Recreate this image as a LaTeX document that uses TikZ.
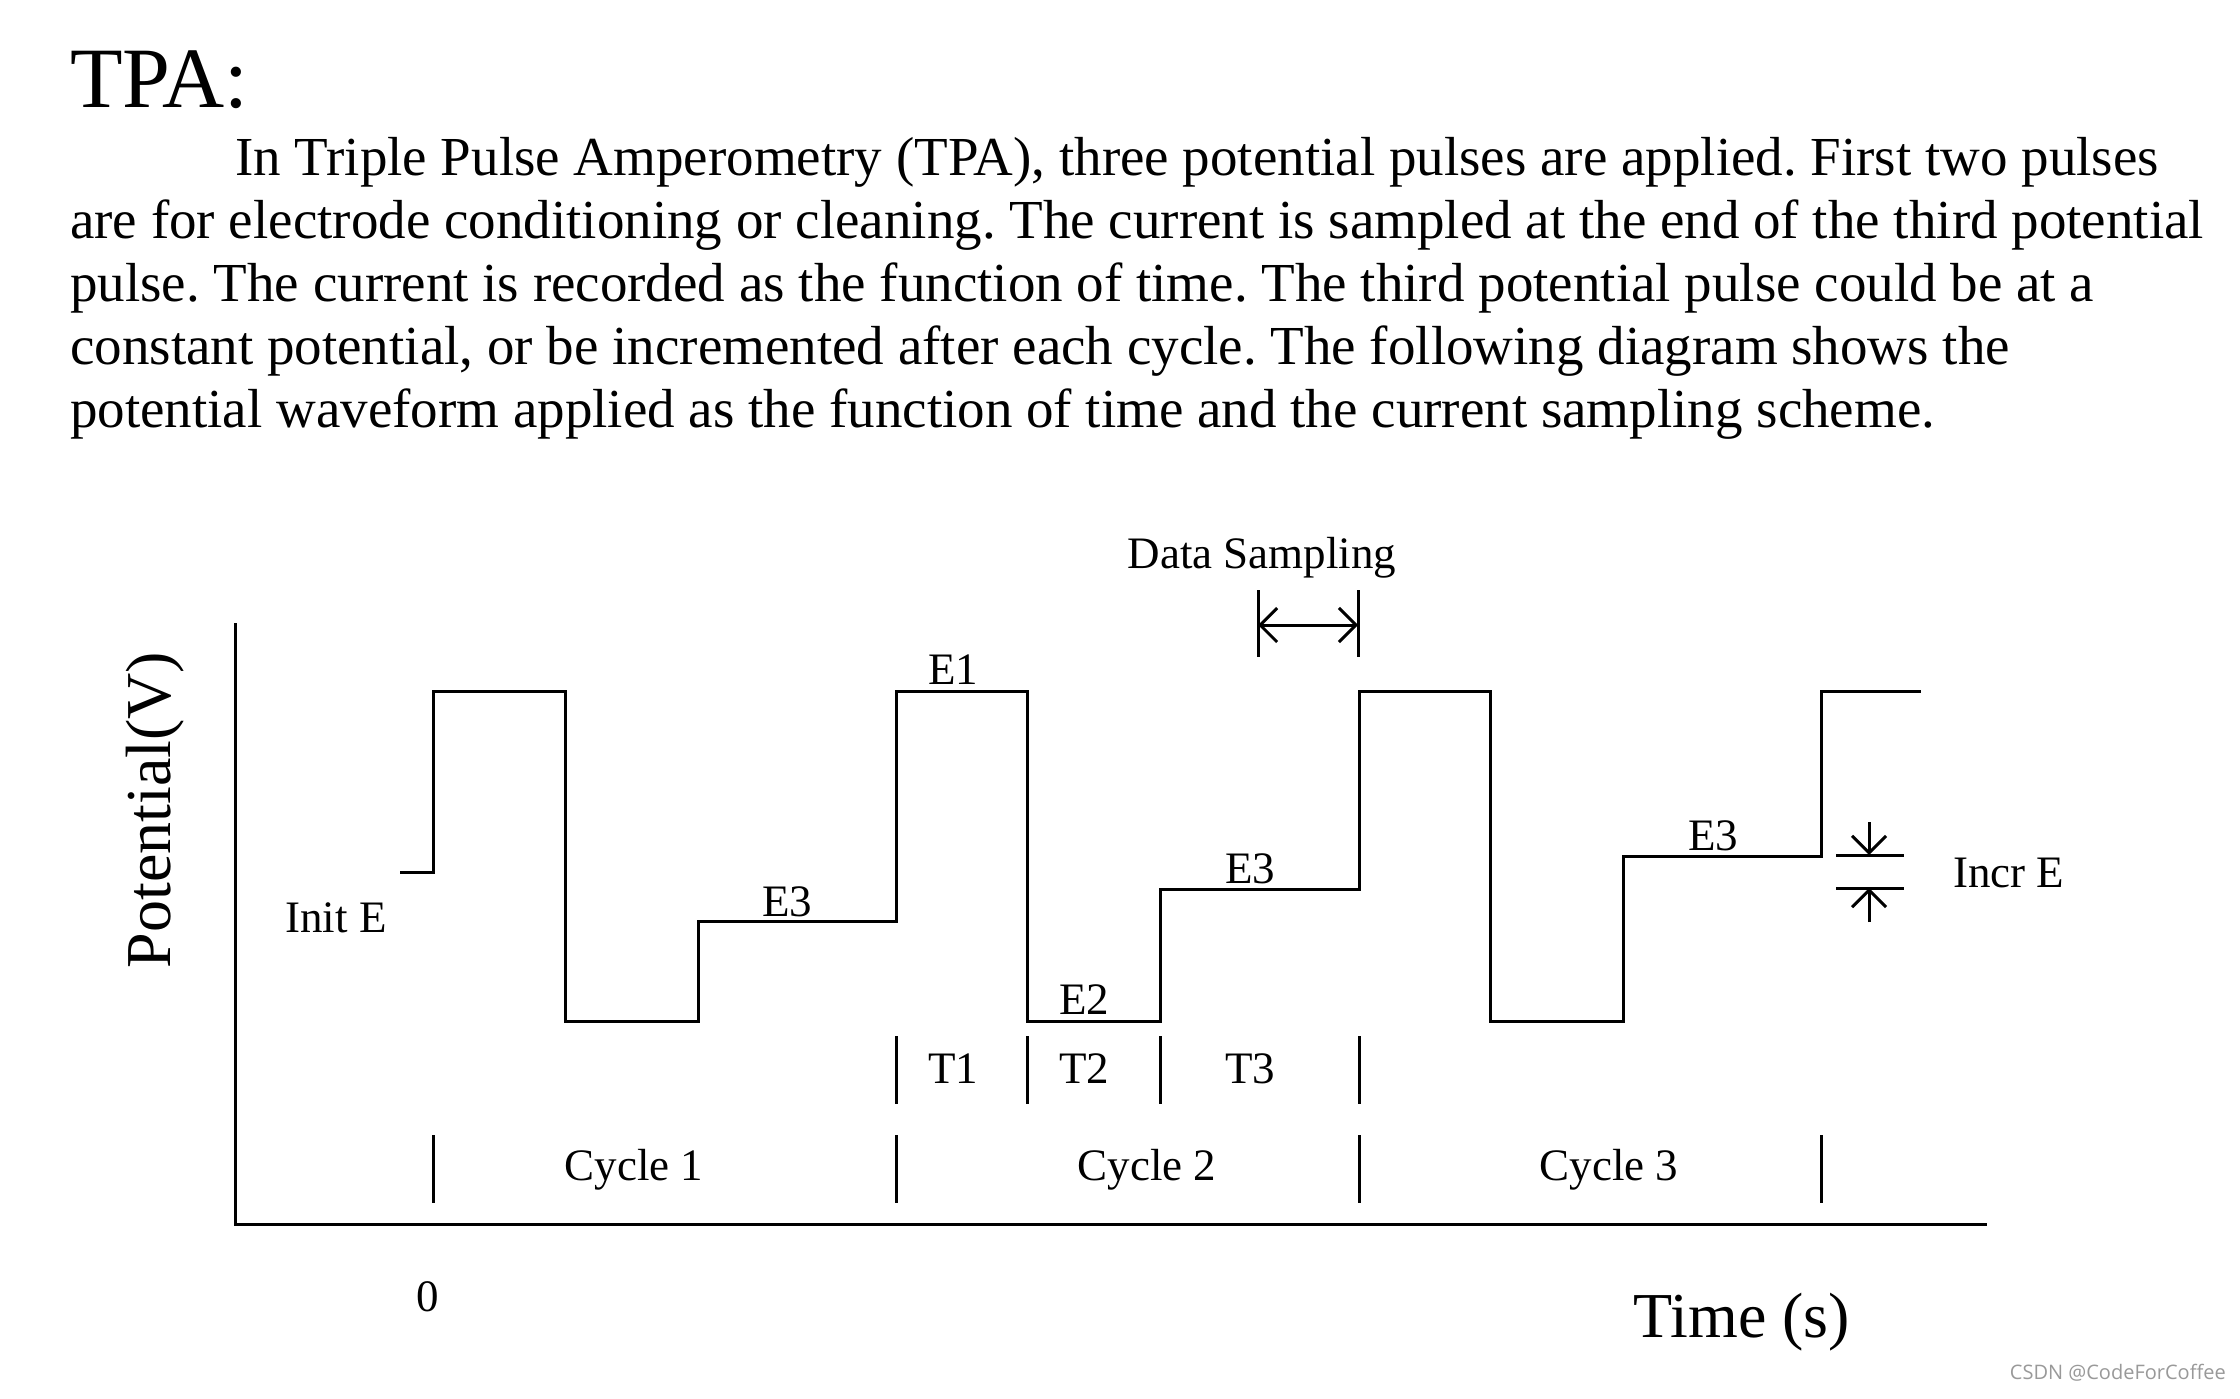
\documentclass[tikz,border=0pt]{standalone}
\usepackage{fontspec}
\setmainfont{Liberation Serif}
\newfontfamily\wmfont{Open Sans}
\usetikzlibrary{arrows.meta}
\frenchspacing
\begin{document}
\begin{tikzpicture}[x=1pt,y=-1pt,
  wave/.style={line width=3pt, line join=miter},
  axisline/.style={line width=3pt},
  tickline/.style={line width=3pt},
  lbl/.style={font=\fontsize{45}{54}\selectfont, inner sep=0pt, anchor=base},
  para/.style={font=\fontsize{55}{63}\selectfont, inner sep=0pt, anchor=base west},
  dimarrow/.style={line width=3pt, arrows={-Straight Barb[length=17pt,width=34pt]}},
  dimarrows/.style={line width=3pt, arrows={Straight Barb[length=17pt,width=34pt]-Straight Barb[length=17pt,width=34pt]}}
]
\fill[white] (0,0) rectangle (2240,1398);
\useasboundingbox (0,0) rectangle (2240,1398);

% text block
\node[anchor=base west, inner sep=0pt, font=\fontsize{86}{100}\selectfont] (title) at (70,107) {TPA:};
\node[para] (l1) at (235,175) {In Triple Pulse Amperometry (TPA), three potential pulses are applied. First two pulses};
\node[para] (l2) at (70,238) {are for electrode conditioning or cleaning. The current is sampled at the end of the third potential};
\node[para] (l3) at (70,301) {pulse. The current is recorded as the function of time. The third potential pulse could be at a};
\node[para] (l4) at (70,364) {constant potential, or be incremented after each cycle. The following diagram shows the};
\node[para] (l5) at (70,427) {potential waveform applied as the function of time and the current sampling scheme.};

% axes
\coordinate (otop) at (235,623);
\coordinate (origin) at (235,1224);
\coordinate (xend) at (1987,1224);
\draw[axisline] (otop) -- (origin) -- (xend);

% waveform
\draw[wave] (400,872) -- (433,872) -- (433,691) -- (565,691) -- (565,1021) -- (698,1021)
  -- (698,921) -- (896,921) -- (896,691) -- (1027,691) -- (1027,1021) -- (1160,1021)
  -- (1160,889) -- (1359,889) -- (1359,691) -- (1490,691) -- (1490,1021) -- (1623,1021)
  -- (1623,856) -- (1821,856) -- (1821,691) -- (1921,691);

% cycle ticks
\foreach \x/\n in {433/c0,896/c1,1359/c2,1821/c3} {
  \coordinate (\n a) at (\x,1135);
  \coordinate (\n b) at (\x,1203);
  \draw[tickline] (\n a) -- (\n b);
}
% T ticks
\foreach \x/\n in {896/t0,1027/t1,1160/t2,1359/t3} {
  \coordinate (\n a) at (\x,1036);
  \coordinate (\n b) at (\x,1104);
  \draw[tickline] (\n a) -- (\n b);
}

% data sampling marker
\coordinate (dsla) at (1258,590); \coordinate (dslb) at (1258,657);
\coordinate (dsra) at (1358,590); \coordinate (dsrb) at (1358,657);
\draw[tickline] (dsla) -- (dslb);
\draw[tickline] (dsra) -- (dsrb);
\coordinate (dsl) at (1258,625); \coordinate (dsr) at (1358,625);
\draw[dimarrows] (dsl) -- (dsr);
\node[lbl] (ds) at (1262,568) {Data Sampling};

% increment marker
\coordinate (iua) at (1836,855); \coordinate (iub) at (1904,855);
\coordinate (ila) at (1836,888); \coordinate (ilb) at (1904,888);
\draw[tickline] (iua) -- (iub);
\draw[tickline] (ila) -- (ilb);
\coordinate (iutop) at (1869,822); \coordinate (iutip) at (1869,855);
\coordinate (ilbot) at (1869,922); \coordinate (iltip) at (1869,888);
\draw[dimarrow] (iutop) -- (iutip);
\draw[dimarrow] (ilbot) -- (iltip);
\node[lbl, anchor=base west] (incr) at (1953,887) {Incr E};

% labels
\node[lbl] (init) at (336,932) {Init E};
\node[lbl] (e3a) at (787,916) {E3};
\node[lbl] (e1) at (953,684) {E1};
\node[lbl] (e2) at (1084,1014) {E2};
\node[lbl] (e3b) at (1250,883) {E3};
\node[lbl] (e3c) at (1713,850) {E3};
\node[lbl] (T1) at (953,1083) {T1};
\node[lbl] (T2) at (1084,1083) {T2};
\node[lbl] (T3) at (1250,1083) {T3};
\node[lbl] (cy1) at (634,1180) {Cycle 1};
\node[lbl] (cy2) at (1147,1180) {Cycle 2};
\node[lbl] (cy3) at (1609,1180) {Cycle 3};
\node[lbl] (zero) at (428,1311) {0};
\node[lbl, font=\fontsize{64}{76}\selectfont] (tlab) at (1742,1337) {Time (s)};
\node[rotate=90, anchor=base, inner sep=0pt, font=\fontsize{64}{76}\selectfont] (ylab) at (170,810) {Potential(V)};

% watermark
\node[anchor=base east, inner sep=0pt, font=\wmfont\fontsize{20}{24}\selectfont, text=black!40] (wm) at (2226,1379) {CSDN @CodeForCoffee};
\end{tikzpicture}
\end{document}
